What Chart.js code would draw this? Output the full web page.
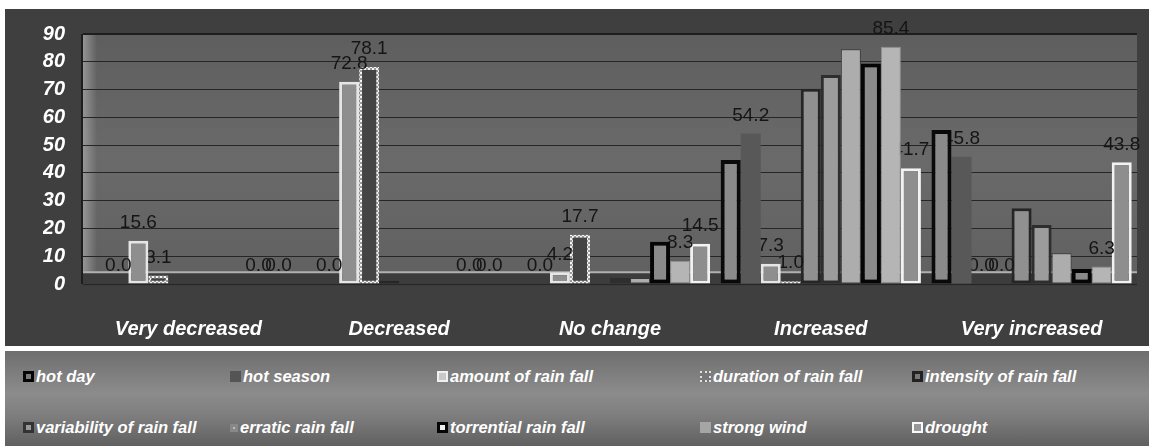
<!DOCTYPE html>
<html>
<head>
<meta charset="utf-8">
<script src="https://cdn.jsdelivr.net/npm/chart.js@4.4.1/dist/chart.umd.min.js"></script>
<style>
  html, body { margin: 0; padding: 0; background: #fff; }
  body { width: 1149px; height: 446px; overflow: hidden; position: relative; }
  #wrap { position: absolute; left: 0; top: 0; width: 1149px; height: 346px; }
  #legend {
    position: absolute; left: 5px; top: 351px; width: 1144px; height: 95px;
    background: linear-gradient(#6e6e6e, #8c8c8c 45%, #7c7c7c 70%, #606060);
    font-family: "Liberation Sans", Arial, sans-serif; font-weight: bold; font-style: italic;
    font-size: 16.5px; color: #fff;
  }
  #legend .item { position: absolute; display: flex; align-items: center; white-space: nowrap; }
  #legend .box { width: 11px; height: 11px; box-sizing: border-box; margin-right: 2px; }
</style>
</head>
<body>
<div id="wrap"><canvas id="myChart" width="1149" height="346"></canvas></div>
<div id="legend"></div>
<script>
const categories = ['Very decreased', 'Decreased', 'No change', 'Increased', 'Very increased'];
const seriesNames = ['hot day', 'hot season', 'amount of rain fall', 'duration of rain fall',
  'intensity of rain fall', 'variability of rain fall', 'erratic rain fall',
  'torrential rain fall', 'strong wind', 'drought'];

const hotDay = [0, 0, 0, 44.6, 55.4];
const hotSeason = [0, 0, 0, 54.2, 45.8];
const amountRain = [15.6, 72.8, 4.2, 7.3, 0.0];
const durationRain = [3.1, 78.1, 17.7, 1.0, 0.0];
const intensityRain = [0, 1.2, 0, 70.3, 27.3];
const variabilityRain = [0, 0, 2.2, 75.2, 21.2];
const erraticRain = [0, 0, 2.2, 84.5, 11.1];
const torrentialRain = [0, 0, 15.2, 79.4, 5.4];
const strongWind = [0, 0, 8.3, 85.4, 6.3];
const drought = [0, 0, 14.5, 41.7, 43.8];

const yMin = 0, yMax = 90, yStep = 10;
const floorValue = 4.2; // light "floor" line of the 3d plot

// dotted frame for the duration bars
function dotPattern() {
    let c = document.createElement('canvas');
    c.width = 4; c.height = 4;
    let g = c.getContext('2d');
    g.fillStyle = '#9a9a9a';
    g.fillRect(0, 0, 4, 4);
    g.fillStyle = '#f4f4f4';
    g.fillRect(0, 0, 2, 2);
    g.fillRect(2, 2, 2, 2);
    return g.createPattern(c, 'repeat');
}

const values = [hotDay, hotSeason, amountRain, durationRain, intensityRain,
  variabilityRain, erraticRain, torrentialRain, strongWind, drought];
const fills = ['#8a8a8a', '#585858', '#8e8e8e', '#444444', '#909090', '#9c9c9c', '#adadad', '#8a8a8a', '#b5b5b5', '#8e8e8e'];
const borders = ['#0a0a0a', '#585858', '#e6e6e6', dotPattern(), '#262626', '#2e2e2e', '#3a3a3a', '#050505', '#8f8f8f', '#f2f2f2'];
const borderWidths = [4, 0, 3, 3, 3, 3, 1, 4, 1, 3];
const withLabels = [false, true, true, true, false, false, false, false, true, true];

const font = '"Liberation Sans", Arial, sans-serif';

const plotBg = {
    id: 'plotBg',
    beforeDraw(chart) {
        const ctx = chart.ctx, a = chart.chartArea, y = chart.scales.y;
        ctx.save();
        ctx.fillStyle = '#3f3f3f';
        ctx.fillRect(5, 9, chart.width - 5, chart.height - 9);
        let g = ctx.createLinearGradient(0, a.top, 0, a.bottom);
        g.addColorStop(0, '#5e5e5e');
        g.addColorStop(0.5, '#6a6a6a');
        g.addColorStop(1, '#606060');
        ctx.fillStyle = g;
        ctx.fillRect(a.left, a.top, a.right - a.left, a.bottom - a.top);
        // floor of the 3d box
        let fy = y.getPixelForValue(floorValue);
        ctx.fillStyle = '#3c3c3c';
        ctx.fillRect(a.left, fy, a.right - a.left, a.bottom - fy + 2);
        // left wall
        let w = ctx.createLinearGradient(a.left, 0, a.left + 14, 0);
        w.addColorStop(0, 'rgba(170,170,170,0.7)');
        w.addColorStop(1, 'rgba(170,170,170,0)');
        ctx.fillStyle = w;
        ctx.fillRect(a.left, a.top, 14, fy - a.top);
        ctx.restore();
    },
    beforeDatasetsDraw(chart) {
        const ctx = chart.ctx, a = chart.chartArea, y = chart.scales.y;
        let fy = y.getPixelForValue(floorValue);
        ctx.save();
        ctx.strokeStyle = '#b0b0b0';
        ctx.lineWidth = 2;
        ctx.beginPath();
        ctx.moveTo(a.left, fy);
        ctx.lineTo(a.right, fy);
        ctx.stroke();
        ctx.strokeStyle = '#1e1e1e';
        ctx.lineWidth = 2;
        ctx.beginPath();
        ctx.moveTo(a.left - 1, a.top);
        ctx.lineTo(a.left - 1, a.bottom);
        ctx.moveTo(a.left, a.top);
        ctx.lineTo(a.right, a.top);
        ctx.stroke();
        ctx.restore();
    }
};

const valueLabels = {
    id: 'valueLabels',
    afterDatasetDraw(chart, args) {
        const ds = chart.data.datasets[args.index];
        if (!ds.showValues) return;
        const ctx = chart.ctx;
        ctx.save();
        ctx.font = '19px ' + font;
        ctx.fillStyle = '#151515';
        ctx.textAlign = 'center';
        ctx.textBaseline = 'middle';
        args.meta.data.forEach((bar, i) => {
            ctx.fillText(ds.data[i].toFixed(1), bar.x, bar.y - 18);
        });
        ctx.restore();
    }
};

let ctx = document.getElementById('myChart').getContext('2d');
let myChart = new Chart(ctx, {
    type: 'bar',
    data: {
        labels: categories,
        datasets: seriesNames.map((name, i) => ({
            label: name,
            data: values[i],
            backgroundColor: fills[i],
            borderColor: borders[i],
            borderWidth: borderWidths[i],
            borderSkipped: false,
            showValues: withLabels[i],
            categoryPercentage: 0.95,
            barPercentage: 1.0
        }))
    },
    options: {
        responsive: false,
        animation: false,
        layout: { padding: { left: 43, right: 12, top: 34, bottom: 0 } },
        plugins: {
            legend: { display: false },
            tooltip: { enabled: false }
        },
        scales: {
            x: {
                grid: { display: false },
                border: { display: false },
                ticks: {
                    color: '#ffffff',
                    padding: 25,
                    font: { family: font, size: 20, weight: 'bold', style: 'italic' }
                },
                afterFit: s => { s.height = 62; }
            },
            y: {
                min: yMin,
                max: yMax,
                grid: { color: '#262626', lineWidth: 1, drawTicks: false },
                border: { display: false },
                ticks: {
                    stepSize: yStep,
                    color: '#ffffff',
                    padding: 18,
                    font: { family: font, size: 20, weight: 'bold', style: 'italic' }
                },
                afterFit: s => { s.width = 40; }
            }
        }
    },
    plugins: [plotBg, valueLabels]
});

// legend laid out in 5 columns like the original
const legendCols = [18, 225, 432, 695, 907];
const legendRows = [16, 67];
const legendBox = [
    'background:#7a7a7a;border:3px solid #050505',
    'background:#555',
    'background:#c8c8c8;border:2px solid #f0f0f0',
    'background:#777;border:2px dotted #e0e0e0',
    'background:#777;border:3px solid #222',
    'background:#999;border:3px solid #333',
    'background:#bbb;border:3px solid #888;width:8px;height:8px',
    'background:#eee;border:3px solid #050505',
    'background:#a5a5a5',
    'background:#999;border:2px solid #fafafa'
];
const legendEl = document.getElementById('legend');
myChart.data.datasets.forEach((ds, i) => {
    let item = document.createElement('div');
    item.className = 'item';
    item.style.left = legendCols[i % 5] + 'px';
    item.style.top = legendRows[Math.floor(i / 5)] + 'px';
    item.innerHTML = '<span class="box" style="' + legendBox[i] + '"></span><span>' + ds.label + '</span>';
    legendEl.appendChild(item);
});
</script>
</body>
</html>
